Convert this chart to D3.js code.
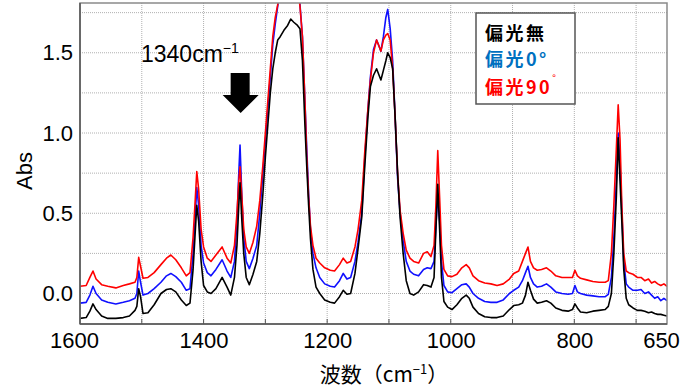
<!DOCTYPE html>
<html>
<head>
<meta charset="utf-8">
<script src="https://cdn.jsdelivr.net/npm/d3@7"></script>
<style>
  body { margin: 0; background: #fff; }
  svg { display: block; }
</style>
</head>
<body>
<div id="chart"></div>
<script>
// wavenumbers (cm-1), shared by all three spectra
var wn = [1600,1590,1584,1579,1574,1565,1555,1542,1530,1520,1511,1508,1505,1502,1498,1490,1480,1469,1460,1453,
  1445,1436,1428,1422,1417,1414,1411,1408,1404,1400,1394,1388,1380,1370,1362,1356,1350,1346,1343,1341,
  1338,1335,1331,1326,1320,1314,1309,1304,1300,1296,1292,1288,1284,1280,1276,1270,1264,1259,1254,1248,
  1244,1240,1236,1233,1230,1227,1223,1218,1212,1204,1195,1188,1180,1174,1168,1162,1155,1150,1144,1139,
  1134,1130,1125,1120,1116,1113,1109,1105,1102,1098,1094,1090,1086,1082,1077,1072,1066,1060,1052,1044,
  1038,1032,1027,1024,1021,1018,1015,1011,1005,998,990,982,975,970,964,955,945,935,925,915,
  905,898,890,884,879,875,871,866,860,853,845,838,830,820,810,803,799,795,790,780,
  770,760,750,745,740,736,732,729,726,723,720,716,712,705,698,692,686,680,675,670,
  665,660,655,650];

// 偏光無
var absNone = [-0.155,-0.15,-0.11,-0.065,-0.10,-0.14,-0.155,-0.155,-0.15,-0.14,-0.105,-0.08,0.03,-0.02,-0.125,-0.12,-0.07,0.0,0.025,0.03,
  0.01,-0.04,-0.075,-0.06,0.15,0.35,0.55,0.45,0.2,0.05,0.01,0.0,0.03,0.10,0.04,-0.01,0.1,0.3,0.55,0.69,
  0.45,0.25,0.10,0.055,0.12,0.2,0.375,0.62,0.85,1.05,1.25,1.4,1.5,1.58,1.6,1.64,1.67,1.71,1.69,1.67,
  1.65,1.45,1.05,0.79,0.55,0.34,0.15,0.04,0.0,-0.04,-0.055,-0.06,-0.02,0.02,-0.005,0.0,0.125,0.28,0.475,0.8,
  1.1,1.29,1.36,1.40,1.36,1.33,1.39,1.45,1.50,1.47,1.40,1.1,0.75,0.475,0.25,0.08,0.0,-0.01,0.01,0.055,
  0.05,0.04,0.1,0.4,0.68,0.4,0.1,-0.05,-0.085,-0.1,-0.07,-0.03,-0.01,-0.03,-0.085,-0.125,-0.145,-0.15,-0.15,-0.14,
  -0.1,-0.075,-0.07,-0.06,-0.01,0.07,0.02,-0.035,-0.06,-0.055,-0.045,-0.06,-0.09,-0.105,-0.11,-0.1,-0.065,-0.09,-0.115,-0.12,
  -0.11,-0.105,-0.1,-0.08,0.0,0.25,0.6,0.97,0.7,0.44,0.15,-0.03,-0.07,-0.09,-0.105,-0.105,-0.11,-0.12,-0.115,-0.125,
  -0.13,-0.13,-0.135,-0.14];

// 偏光0°
var abs0 = [-0.06,-0.055,-0.01,0.045,0.0,-0.04,-0.055,-0.065,-0.055,-0.045,-0.03,0.0,0.14,0.07,-0.01,0.0,0.03,0.07,0.11,0.125,
  0.105,0.07,0.02,0.03,0.25,0.45,0.66,0.55,0.3,0.19,0.13,0.11,0.15,0.21,0.14,0.10,0.2,0.45,0.75,0.925,
  0.6,0.35,0.2,0.155,0.22,0.3,0.5,0.75,0.95,1.15,1.35,1.55,1.68,1.79,1.9,1.95,1.95,1.95,1.95,1.92,
  1.8,1.6,1.2,0.9,0.62,0.4,0.25,0.16,0.10,0.06,0.045,0.04,0.08,0.125,0.09,0.1,0.2,0.32,0.5,0.85,
  1.15,1.35,1.52,1.58,1.54,1.51,1.6,1.72,1.77,1.65,1.45,1.1,0.72,0.5,0.33,0.2,0.14,0.12,0.11,0.15,
  0.16,0.155,0.2,0.42,0.62,0.45,0.2,0.05,0.01,0.005,0.03,0.055,0.06,0.04,0.0,-0.03,-0.05,-0.055,-0.055,-0.04,
  0.0,0.02,0.04,0.08,0.13,0.17,0.1,0.06,0.04,0.045,0.06,0.04,0.01,0.0,-0.005,0.0,0.05,0.01,0.0,-0.01,
  -0.015,-0.02,-0.02,-0.005,0.1,0.35,0.7,1.0,0.8,0.5,0.2,0.06,0.04,0.02,0.02,0.025,0.0,0.01,-0.01,-0.03,
  -0.02,-0.045,-0.03,-0.045];

// 偏光90°
var abs90 = [0.045,0.05,0.1,0.14,0.09,0.055,0.045,0.035,0.05,0.06,0.07,0.1,0.225,0.17,0.095,0.10,0.13,0.18,0.22,0.24,
  0.21,0.16,0.11,0.13,0.35,0.55,0.76,0.65,0.4,0.29,0.22,0.2,0.24,0.29,0.22,0.19,0.3,0.5,0.7,0.79,
  0.6,0.4,0.29,0.25,0.32,0.42,0.58,0.8,1.0,1.2,1.4,1.6,1.72,1.8,1.9,1.95,1.95,1.95,1.95,1.92,
  1.79,1.6,1.2,0.85,0.6,0.42,0.3,0.22,0.19,0.16,0.145,0.14,0.18,0.22,0.19,0.2,0.29,0.4,0.58,0.89,
  1.15,1.33,1.5,1.58,1.54,1.51,1.58,1.61,1.62,1.58,1.4,1.1,0.75,0.52,0.375,0.27,0.22,0.2,0.19,0.25,
  0.26,0.23,0.3,0.55,0.89,0.6,0.3,0.15,0.11,0.105,0.12,0.16,0.18,0.16,0.11,0.08,0.065,0.06,0.05,0.06,
  0.09,0.125,0.14,0.2,0.25,0.29,0.2,0.16,0.145,0.15,0.16,0.14,0.11,0.10,0.10,0.1,0.145,0.11,0.095,0.085,
  0.075,0.07,0.07,0.08,0.25,0.55,0.9,1.175,0.96,0.54,0.25,0.14,0.13,0.12,0.1,0.1,0.08,0.09,0.065,0.075,
  0.06,0.05,0.06,0.045];

var xTicks = [1600, 1400, 1200, 1000, 800, 650];
var xGrid = [1500, 1400, 1300, 1200, 1100, 1000, 900, 800, 700];
var yTicks = [0.0, 0.5, 1.0, 1.5];
var yGrid = [-0.25, 0, 0.25, 0.5, 0.75, 1.0, 1.25, 1.5, 1.75];

var series = [
  {name: '偏光0°', values: abs0, color: '#1010ff'},
  {name: '偏光90°', values: abs90, color: '#ff0000'},
  {name: '偏光無', values: absNone, color: '#000000'}
];

var W = 697, H = 390;
var margin = {top: 3, right: 30, bottom: 66, left: 80};
var width = W - margin.left - margin.right,
    height = H - margin.top - margin.bottom;

var svg = d3.select('#chart').append('svg')
    .attr('width', W)
    .attr('height', H);

var g = svg.append('g')
    .attr('transform', 'translate(' + margin.left + ',' + margin.top + ')');

var x = d3.scaleLinear().domain([1600, 650]).range([0, width]);
var y = d3.scaleLinear().domain([-0.19, 1.81]).range([height, 0]);

var font = '"Liberation Sans", Arial, sans-serif';
var cjk = '"Noto Sans CJK JP", "Noto Sans", sans-serif';

// grid
g.selectAll('.vgrid').data(xGrid).enter().append('line')
    .attr('x1', d => x(d)).attr('x2', d => x(d))
    .attr('y1', 0).attr('y2', height)
    .attr('stroke', '#b0b0b0').attr('stroke-width', 1)
    .attr('stroke-dasharray', '1,1');
g.selectAll('.hgrid').data(yGrid.filter(d => y(d) > 0 && y(d) < height)).enter().append('line')
    .attr('x1', 0).attr('x2', width)
    .attr('y1', d => y(d)).attr('y2', d => y(d))
    .attr('stroke', '#b0b0b0').attr('stroke-width', 1)
    .attr('stroke-dasharray', '1,1');

// clip
svg.append('defs').append('clipPath').attr('id', 'clip')
  .append('rect').attr('width', width).attr('height', height);

var line = d3.line()
    .x((d, i) => x(wn[i]))
    .y(d => y(d));

g.append('g').attr('clip-path', 'url(#clip)')
  .selectAll('path').data(series).enter().append('path')
    .attr('d', d => line(d.values))
    .attr('fill', 'none')
    .attr('stroke', d => d.color)
    .attr('stroke-width', 1.6)
    .attr('stroke-linejoin', 'round');

// frame
g.append('rect')
    .attr('width', width).attr('height', height)
    .attr('fill', 'none').attr('stroke', '#8a8a8a').attr('stroke-width', 1.5);
g.append('line').attr('x1', 0).attr('x2', 0).attr('y1', 0).attr('y2', height)
    .attr('stroke', '#555').attr('stroke-width', 1.5);
g.append('line').attr('x1', 0).attr('x2', width).attr('y1', height).attr('y2', height)
    .attr('stroke', '#555').attr('stroke-width', 1.5);

// x axis
var xAxis = d3.axisBottom(x).tickValues(xTicks).tickSize(0).tickPadding(8).tickFormat(d3.format('d'));
var xa = g.append('g').attr('transform', 'translate(0,' + height + ')').call(xAxis);
xa.select('.domain').remove();
xa.selectAll('text').attr('font-family', font).attr('font-size', 22).attr('fill', '#000')
    .attr('dx', d => (d === 1600 || d === 650) ? -6 : 0);
g.selectAll('.xtick').data(xGrid).enter().append('line')
    .attr('x1', d => x(d)).attr('x2', d => x(d))
    .attr('y1', height).attr('y2', height - 5)
    .attr('stroke', '#555').attr('stroke-width', 1);

// y axis
var yAxis = d3.axisLeft(y).tickValues(yTicks).tickSize(0).tickPadding(7).tickFormat(d3.format('.1f'));
var ya = g.append('g').call(yAxis);
ya.select('.domain').remove();
ya.selectAll('text').attr('font-family', font).attr('font-size', 22).attr('fill', '#000');

// axis titles
svg.append('text')
    .attr('transform', 'translate(32,171) rotate(-90)')
    .attr('text-anchor', 'middle')
    .attr('font-family', font).attr('font-size', 22)
    .text('Abs');

var xl = svg.append('text')
    .attr('x', 384).attr('y', 382)
    .attr('text-anchor', 'middle')
    .attr('font-family', cjk).attr('font-size', 21);
xl.append('tspan').text('波数（cm');
xl.append('tspan').attr('font-size', 13).attr('dy', -8).text('−1');
xl.append('tspan').attr('dy', 8).text('）');

// annotation
var ann = svg.append('text')
    .attr('x', 141).attr('y', 62)
    .attr('font-family', font).attr('font-size', 23);
ann.append('tspan').text('1340cm');
ann.append('tspan').attr('font-size', 14).attr('dy', -9).text('−1');

var ax = x(1340) + margin.left;
svg.append('path')
    .attr('d', d3.line()([[ax - 10, 73], [ax + 9, 73], [ax + 9, 95], [ax + 18, 95],
        [ax, 113], [ax - 18, 95], [ax - 10, 95]]) + 'Z')
    .attr('fill', '#000');

// legend
var lg = svg.append('g').attr('transform', 'translate(476,13)');
lg.append('rect')
    .attr('width', 99).attr('height', 91)
    .attr('fill', '#fff').attr('stroke', '#555').attr('stroke-width', 1.5);
var legendRows = [
  {label: '偏光無', color: '#000000', sup: null, y: 27},
  {label: '偏光0°', color: '#0070c0', sup: null, y: 53},
  {label: '偏光90', color: '#ff0000', sup: '°', y: 81}
];
lg.selectAll('text.leg').data(legendRows).enter().append('text')
    .attr('x', 9).attr('y', d => d.y)
    .attr('font-family', cjk).attr('font-size', 18).attr('font-weight', 'bold')
    .attr('letter-spacing', 2.5)
    .attr('fill', d => d.color)
    .each(function(d) {
      var t = d3.select(this);
      t.append('tspan').text(d.label);
      if (d.sup) t.append('tspan').attr('font-size', 10).attr('font-weight', 'normal').attr('dy', -12).text(d.sup);
    });
</script>
</body>
</html>
